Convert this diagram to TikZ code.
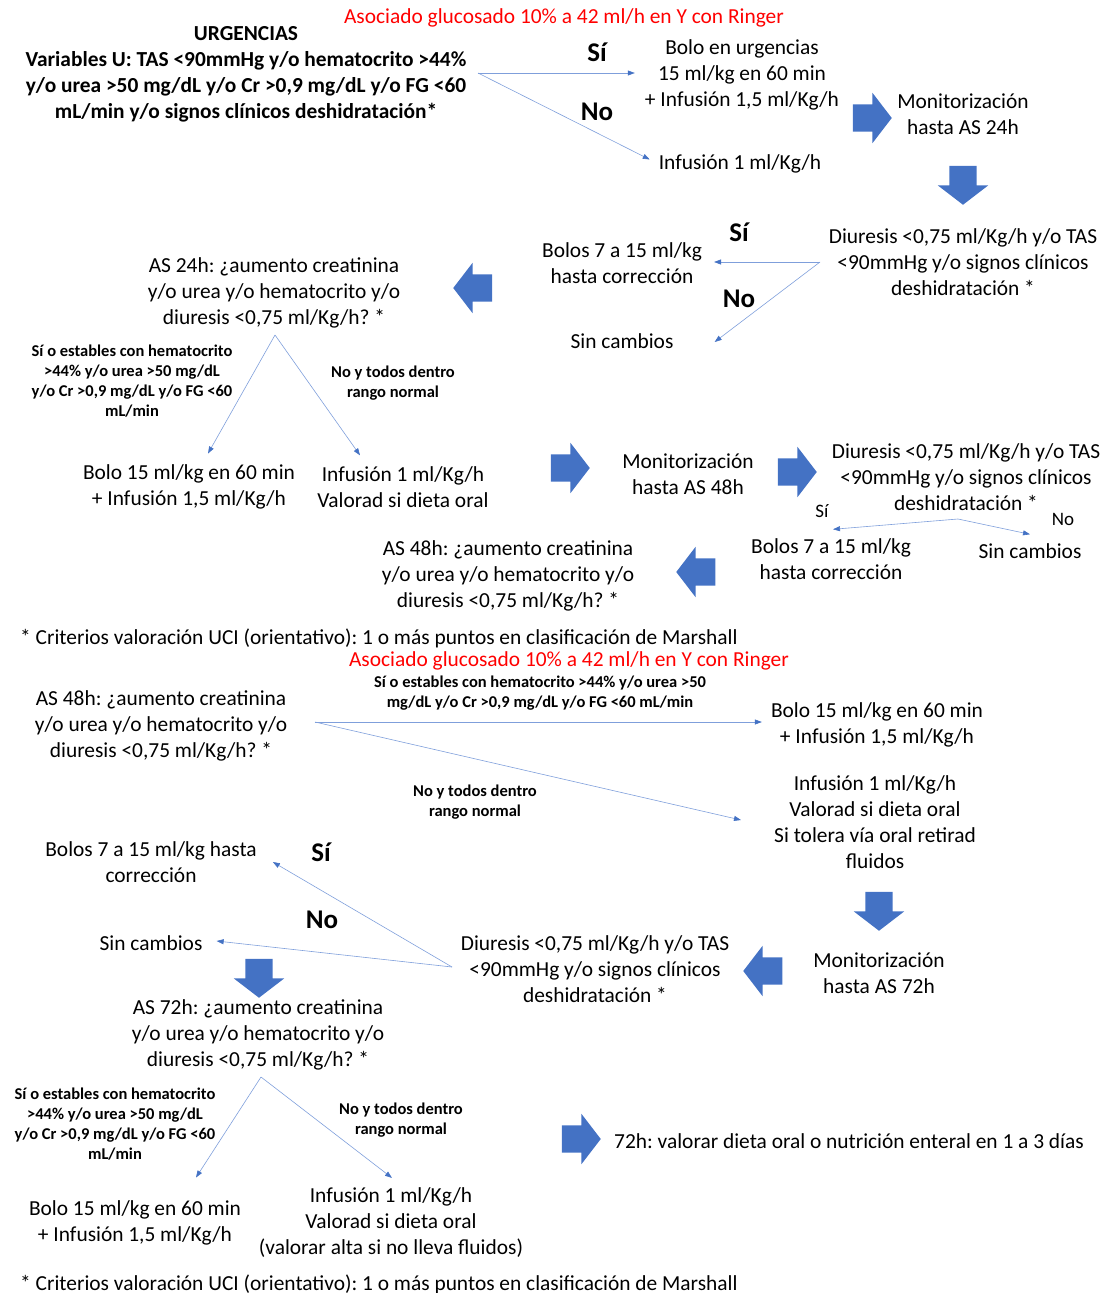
\documentclass[tikz,border=0pt]{standalone}
\usepackage{fontspec}
\setmainfont{Carlito}
\usepackage{xcolor}
\usepackage{tikz}
\usetikzlibrary{positioning,arrows.meta,shapes.arrows}
\definecolor{AEGBlue}{HTML}{4472C4}
\definecolor{AEGLine}{HTML}{7F9FDB}
\definecolor{AEGRed}{HTML}{FF0000}
\frenchspacing
\newcommand\flmainsz{\fontsize{21.4}{26}\selectfont}
\newcommand\flsmallsz{\fontsize{16.5}{20}\selectfont}
\newcommand\flbigsz{\fontsize{27}{30}\selectfont}
\newcommand\flmidsz{\fontsize{19}{22}\selectfont}
\tikzset{fltext/.style={align=center, inner sep=0pt, yshift=-2pt, font=\flmainsz}, flbold/.style={align=center, inner sep=0pt, yshift=-2pt, font=\flmainsz\bfseries}, flcrit/.style={align=center, inner sep=0pt, yshift=-1pt, font=\flsmallsz\bfseries}, flanswer/.style={inner sep=0pt, font=\flbigsz\bfseries}, flminor/.style={inner sep=0pt, font=\flmidsz}, flred/.style={inner sep=0pt, yshift=-2pt, text=AEGRed, font=\flmainsz}, flnote/.style={anchor=west, inner sep=0pt, yshift=-2pt, font=\flmainsz}, flblock/.style={single arrow, draw=none, fill=AEGBlue, minimum width=50pt, minimum height=39pt, inner xsep=0pt, inner ysep=13.5pt, single arrow head extend=11.5pt, single arrow tip angle=105}, flarrow/.style={-{Triangle[length=7pt,width=5pt,color=AEGBlue]}, draw=AEGLine, line width=0.6pt}}
\begin{document}
\begin{tikzpicture}[x=1pt, y=-1pt]
\useasboundingbox (0,0) rectangle (1107,1293);
\node[flred] (red1) at (564,16) {Asociado glucosado 10\% a 42 ml/h en Y con Ringer};
\node[flbold] (urg) at (246,72) {URGENCIAS\\Variables U: TAS <90mmHg y/o hematocrito >44\%\\y/o urea >50 mg/dL y/o Cr >0,9 mg/dL y/o FG <60\\mL/min y/o signos clínicos deshidratación*};
\coordinate (urgsplit) at (478,73);
\node[fltext] (bolourg) at (742,73) {Bolo en urgencias\\15 ml/kg en 60 min\\+ Infusión 1,5 ml/Kg/h};
\node[fltext] (inf1) at (740,162) {Infusión 1 ml/Kg/h};
\node[flanswer] (si1) at (597,52) {Sí};
\node[flanswer] (no1) at (597,112) {No};
\draw[flarrow, shorten >=10pt] (urgsplit) -- (urgsplit -| bolourg.west);
\draw[flarrow, shorten >=10pt] (urgsplit) -- (inf1.west);
\node[flblock] (blk1) at (867,118) {};
\node[fltext] (mon24) at (963,112) {Monitorización\\hasta AS 24h};
\node[flblock, rotate=-90] (blk2) at (963,180) {};
\node[fltext] (diu24) at (963,260) {Diuresis <0,75 ml/Kg/h y/o TAS\\<90mmHg y/o signos clínicos\\deshidratación *};
\coordinate (diu24split) at (820,262);
\node[fltext] (bolos24) at (622,261) {Bolos 7 a 15 ml/kg\\hasta corrección};
\node[fltext] (sin24) at (622,339) {Sin cambios};
\node[flanswer] (si2) at (739,232) {Sí};
\node[flanswer] (no2) at (739,299) {No};
\draw[flarrow, shorten >=12pt] (diu24split) -- (diu24split -| bolos24.east);
\draw[flarrow] (diu24split) -- ([xshift=41pt,yshift=-1pt]sin24.east);
\node[flblock, rotate=180] (blk3) at (478,288) {};
\node[fltext] (as24) at (274,291) {AS 24h: ¿aumento creatinina\\y/o urea y/o hematocrito y/o\\diuresis <0,75 ml/Kg/h? *};
\coordinate (as24split) at (275,335);
\node[flcrit] (as24yes) at (132,380) {Sí o estables con hematocrito\\>44\% y/o urea >50 mg/dL\\y/o Cr >0,9 mg/dL y/o FG <60\\mL/min};
\node[flcrit] (as24no) at (393,382) {No y todos dentro\\rango normal};
\node[fltext] (bolo24) at (189,485) {Bolo 15 ml/kg en 60 min\\+ Infusión 1,5 ml/Kg/h};
\node[fltext] (inf24) at (403,485) {Infusión 1 ml/Kg/h\\Valorad si dieta oral};
\draw[flarrow] (as24split) -- ([xshift=19pt,yshift=11pt]bolo24.north);
\draw[flarrow] (as24split) -- ([xshift=-43pt,yshift=11pt]inf24.north);
\node[flblock] (blk4) at (565,468) {};
\node[fltext] (mon48) at (688,472) {Monitorización\\hasta AS 48h};
\node[flblock] (blk5) at (792,472) {};
\node[fltext] (diu48) at (966,475) {Diuresis <0,75 ml/Kg/h y/o TAS\\<90mmHg y/o signos clínicos\\deshidratación *};
\coordinate (diu48split) at (958,519);
\node[fltext] (bolos48) at (831,557) {Bolos 7 a 15 ml/kg\\hasta corrección};
\node[fltext] (sin48) at (1030,549) {Sin cambios};
\node[flminor] (si3) at (822,511) {Sí};
\node[flminor] (no3) at (1063,519) {No};
\draw[flarrow] (diu48split) -- ([xshift=2pt,yshift=9pt]bolos48.north);
\draw[flarrow] (diu48split) -- ([yshift=9pt]sin48.north);
\node[flblock, rotate=180] (blk6) at (701,572) {};
\node[fltext] (as48) at (508,574) {AS 48h: ¿aumento creatinina\\y/o urea y/o hematocrito y/o\\diuresis <0,75 ml/Kg/h? *};
\node[flnote] (note1) at (20,636) {* Criterios valoración UCI (orientativo): 1 o más puntos en clasificación de Marshall};
\node[flred] (red2) at (569,659) {Asociado glucosado 10\% a 42 ml/h en Y con Ringer};
\node[fltext] (as48b) at (161,724) {AS 48h: ¿aumento creatinina\\y/o urea y/o hematocrito y/o\\diuresis <0,75 ml/Kg/h? *};
\coordinate (as48split) at (315,722);
\node[flcrit] (as48yes) at (540,692) {Sí o estables con hematocrito >44\% y/o urea >50\\mg/dL y/o Cr >0,9 mg/dL y/o FG <60 mL/min};
\node[flcrit] (as48no) at (475,801) {No y todos dentro\\rango normal};
\node[fltext] (bolo48) at (877,723) {Bolo 15 ml/kg en 60 min\\+ Infusión 1,5 ml/Kg/h};
\node[fltext] (inf48) at (875,820) {Infusión 1 ml/Kg/h\\Valorad si dieta oral\\Si tolera vía oral retirad\\fluidos};
\draw[flarrow, shorten >=9pt] (as48split) -- (as48split -| bolo48.west);
\draw[flarrow] (as48split) -- ([xshift=-33pt,yshift=2pt]inf48.west);
\node[flblock, rotate=-90] (blk7) at (879,906) {};
\node[fltext] (mon72) at (879,971) {Monitorización\\hasta AS 72h};
\node[flblock, rotate=180] (blk8) at (768,971) {};
\node[fltext] (diu72) at (595,967) {Diuresis <0,75 ml/Kg/h y/o TAS\\<90mmHg y/o signos clínicos\\deshidratación *};
\coordinate (diu72split) at (452,967);
\node[fltext] (bolos72) at (151,860) {Bolos 7 a 15 ml/kg hasta\\corrección};
\node[fltext] (sin72) at (151,941) {Sin cambios};
\node[flanswer] (si4) at (321,852) {Sí};
\node[flanswer] (no4) at (322,920) {No};
\draw[flarrow] (diu72split) -- ([xshift=16pt]bolos72.east);
\draw[flarrow] (diu72split) -- ([xshift=14pt,yshift=2pt]sin72.east);
\node[flblock, rotate=-90] (blk9) at (259,973) {};
\node[fltext] (as72) at (258,1033) {AS 72h: ¿aumento creatinina\\y/o urea y/o hematocrito y/o\\diuresis <0,75 ml/Kg/h? *};
\coordinate (as72split) at (261,1077);
\node[flcrit] (as72yes) at (115,1123) {Sí o estables con hematocrito\\>44\% y/o urea >50 mg/dL\\y/o Cr >0,9 mg/dL y/o FG <60\\mL/min};
\node[flcrit] (as72no) at (401,1119) {No y todos dentro\\rango normal};
\node[fltext] (bolo72) at (135,1221) {Bolo 15 ml/kg en 60 min\\+ Infusión 1,5 ml/Kg/h};
\node[fltext] (inf72) at (391,1221) {Infusión 1 ml/Kg/h\\Valorad si dieta oral\\(valorar alta si no lleva fluidos)};
\draw[flarrow] (as72split) -- ([xshift=61pt,yshift=23pt]bolo72.north);
\draw[flarrow] (as72split) -- ([xshift=1pt,yshift=10pt]inf72.north);
\node[flblock] (blk10) at (576,1139) {};
\node[flnote] (enteral) at (614,1139) {72h: valorar dieta oral o nutrición enteral en 1 a 3 días};
\node[flnote] (note2) at (20,1282) {* Criterios valoración UCI (orientativo): 1 o más puntos en clasificación de Marshall};
\end{tikzpicture}
\end{document}
